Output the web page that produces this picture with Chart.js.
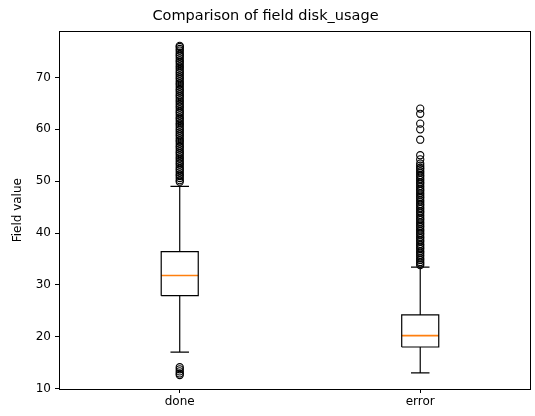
<!DOCTYPE html>
<html>
<head>
<meta charset="utf-8">
<script src="https://cdn.jsdelivr.net/npm/chart.js@4"></script>
<style>
  html, body { margin: 0; padding: 0; background: #fff; }
  #wrap { width: 535px; height: 416px; }
</style>
</head>
<body>
<div id="wrap"><canvas id="boxChart" width="535" height="416"></canvas></div>
<script>
// box statistics
var categories = ['done', 'error'];
var q1 = [27.9, 18.0];
var medians = [31.8, 20.2];
var q3 = [36.4, 24.2];
var whiskerLow = [17.0, 13.0];
var whiskerHigh = [49.0, 33.4];

var doneOutliers = [12.6, 12.9, 13.3, 13.7, 14.1,
  49.9, 50.2, 50.6, 51.0, 51.3, 51.7, 52.1, 52.4, 52.8, 53.2, 53.5, 53.9, 54.3, 54.6,
  55.0, 55.4, 55.7, 56.1, 56.5, 56.8, 57.2, 57.6, 57.9, 58.3, 58.7, 59.0, 59.4, 59.8,
  60.1, 60.5, 60.9, 61.2, 61.6, 62.0, 62.3, 62.7, 63.1, 63.4, 63.8, 64.2, 64.5, 64.9,
  65.3, 65.6, 66.0, 66.4, 66.7, 67.1, 67.5, 67.8, 68.2, 68.6, 68.9, 69.3, 69.7, 70.0,
  70.4, 70.8, 71.1, 71.5, 71.9, 72.2, 72.6, 73.0, 73.3, 73.7, 74.1, 74.4, 74.8, 75.2,
  75.5, 75.9, 76.1];

var errorOutliers = [33.8, 34.1, 34.4, 34.8, 35.1, 35.5, 35.8, 36.2, 36.5, 36.9, 37.2,
  37.6, 37.9, 38.3, 38.6, 39.0, 39.3, 39.7, 40.0, 40.4, 40.7, 41.1, 41.4, 41.8, 42.1,
  42.5, 42.8, 43.2, 43.5, 43.9, 44.2, 44.6, 44.9, 45.3, 45.6, 46.0, 46.3, 46.7, 47.0,
  47.4, 47.7, 48.1, 48.4, 48.8, 49.1, 49.5, 49.8, 50.2, 50.5, 50.9, 51.2, 51.6, 51.9,
  52.3, 52.6, 53.0, 53.4, 54.2, 55.0, 58.0, 60.0, 61.1, 63.0, 64.0];

var outliers = [doneOutliers, errorOutliers];

var boxHalf = 0.077;   // half box width in category units
var capHalf = 0.0385;

// box outlines, whiskers and caps as one broken line
var frame = [];
var medianLine = [];
var fliers = [];
for (var i = 0; i < categories.length; i++) {
  var c = i + 1;
  frame.push({x: c - boxHalf, y: q1[i]}, {x: c + boxHalf, y: q1[i]},
             {x: c + boxHalf, y: q3[i]}, {x: c - boxHalf, y: q3[i]},
             {x: c - boxHalf, y: q1[i]}, {x: c, y: null});
  frame.push({x: c, y: q1[i]}, {x: c, y: whiskerLow[i]}, {x: c, y: null});
  frame.push({x: c, y: q3[i]}, {x: c, y: whiskerHigh[i]}, {x: c, y: null});
  frame.push({x: c - capHalf, y: whiskerLow[i]}, {x: c + capHalf, y: whiskerLow[i]}, {x: c, y: null});
  frame.push({x: c - capHalf, y: whiskerHigh[i]}, {x: c + capHalf, y: whiskerHigh[i]}, {x: c, y: null});
  medianLine.push({x: c - boxHalf, y: medians[i]}, {x: c + boxHalf, y: medians[i]}, {x: c, y: null});
  for (var j = 0; j < outliers[i].length; j++) {
    fliers.push({x: c, y: outliers[i][j]});
  }
}

var frameBox = {
  id: 'frameBox',
  afterDatasetsDraw: function(chart) {
    var a = chart.chartArea, ctx = chart.ctx;
    ctx.save();
    ctx.strokeStyle = '#000';
    ctx.lineWidth = 1;
    ctx.strokeRect(Math.round(a.left) + 0.5, Math.round(a.top) + 0.5,
                   Math.round(a.right - a.left), Math.round(a.bottom - a.top));
    ctx.restore();
  }
};

Chart.defaults.font.family = "'DejaVu Sans', sans-serif";
Chart.defaults.color = '#000';

var canvas = document.getElementById('boxChart');
var myChart = new Chart(canvas, {
  type: 'scatter',
  data: {
    datasets: [
      {
        label: 'box',
        data: frame,
        showLine: true,
        spanGaps: false,
        borderColor: '#000',
        borderWidth: 1.2,
        pointRadius: 0,
        fill: false
      },
      {
        label: 'median',
        data: medianLine,
        showLine: true,
        spanGaps: false,
        borderColor: '#ff7f0e',
        borderWidth: 1.6,
        pointRadius: 0,
        fill: false
      },
      {
        label: 'fliers',
        data: fliers,
        showLine: false,
        pointStyle: 'circle',
        pointRadius: 3.6,
        pointBorderWidth: 1.1,
        pointBorderColor: '#000',
        pointBackgroundColor: 'rgba(0,0,0,0)'
      }
    ]
  },
  options: {
    responsive: false,
    animation: false,
    layout: { padding: { left: 0, right: 4, top: 0, bottom: 0 } },
    plugins: {
      legend: { display: false },
      tooltip: { enabled: false },
      title: {
        display: true,
        text: 'Comparison of field disk_usage',
        font: { size: 14.5, weight: 'normal' },
        color: '#000',
        padding: { top: 8, bottom: 6 }
      }
    },
    scales: {
      x: {
        type: 'linear',
        min: 0.498,
        max: 2.456,
        afterBuildTicks: function(scale) {
          scale.ticks = categories.map(function(n, k) { return {value: k + 1}; });
        },
        afterFit: function(scale) { scale.height = 27; },
        ticks: {
          font: { size: 12 },
          color: '#000',
          padding: 2,
          maxRotation: 0,
          callback: function(v) { return categories[Math.round(v) - 1] || ''; }
        },
        grid: { drawOnChartArea: false, drawTicks: true, tickLength: 4, color: '#000' },
        border: { display: true, color: '#000', width: 1 }
      },
      y: {
        type: 'linear',
        min: 9.9,
        max: 78.9,
        afterBuildTicks: function(scale) {
          scale.ticks = [10, 20, 30, 40, 50, 60, 70].map(function(v) { return {value: v}; });
        },
        afterFit: function(scale) { scale.width = 59; },
        ticks: {
          font: { size: 12 },
          color: '#000',
          padding: 4
        },
        title: {
          display: true,
          text: 'Field value',
          font: { size: 12 },
          color: '#000',
          padding: { top: 11, bottom: 4 }
        },
        grid: { drawOnChartArea: false, drawTicks: true, tickLength: 4, color: '#000' },
        border: { display: true, color: '#000', width: 1 }
      }
    }
  },
  plugins: [frameBox]
});
</script>
</body>
</html>
